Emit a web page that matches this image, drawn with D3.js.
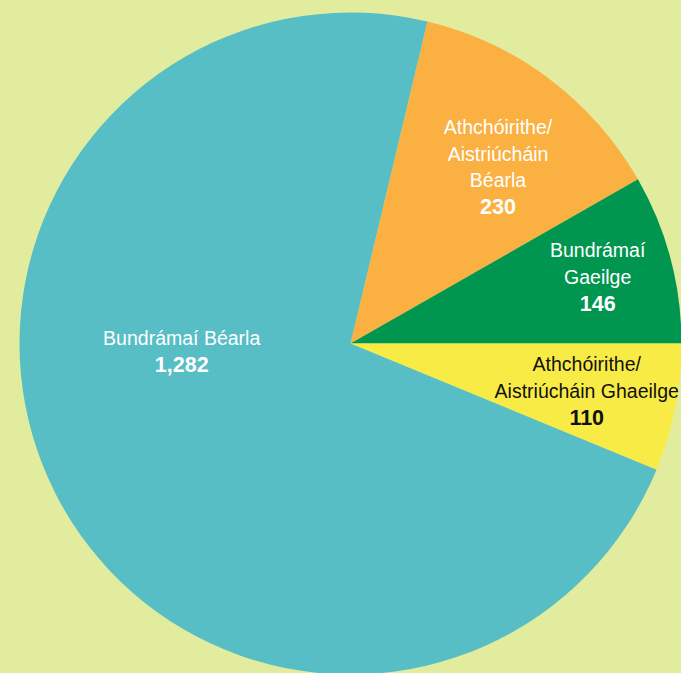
<!DOCTYPE html>
<meta charset="utf-8">
<style>
* { margin: 0; padding: 0; }
body { background: #e1ec9e; }
svg { display: block; }
.lbl { font-family: "Liberation Sans", Arial, sans-serif; font-size: 19.5px; text-anchor: middle; }
.num { font-weight: bold; font-size: 21.5px; }
</style>
<body>
<script src="https://cdn.jsdelivr.net/npm/d3@7"></script>
<script>

var categories = ["Athchóirithe/ Aistriúcháin Béarla", "Bundrámaí Gaeilge", "Athchóirithe/ Aistriúcháin Ghaeilge", "Bundrámaí Béarla"];
var values = [230, 146, 110, 1282];
var labelLines = [
	["Athchóirithe/", "Aistriúcháin", "Béarla"],
	["Bundrámaí", "Gaeilge"],
	["Athchóirithe/", "Aistriúcháin Ghaeilge"],
	["Bundrámaí Béarla"]
];
var valueLabels = ["230", "146", "110", "1,282"];

// look
var colors = ["#fbb042", "#00964f", "#f9eb45", "#57bec5"];
var textColors = ["#fff", "#fff", "#111", "#fff"];
// label anchor: [radius, angle in degrees from north]
var labelAnchor = [[230, 39.9], [256, 74.9], [241, 101.4], [169, 267.3]];

var width = 681,
    height = 673,
    cx = 350.5,
    cy = 343.5,
    radius = 331,
    lineH = 26.5;

var svg = d3.select("body").append("svg")
	.attr("width", width)
	.attr("height", height);

var pie = d3.pie()
	.sort(null)
	.startAngle(13.44 * Math.PI / 180)
	.endAngle((360 + 13.44) * Math.PI / 180);

var arc = d3.arc().innerRadius(0).outerRadius(radius);

var g = svg.append("g").attr("transform", "translate(" + cx + "," + cy + ")");

var arcs = pie(values);

g.selectAll("path.slice")
	.data(arcs)
	.enter().append("path")
	.attr("class", "slice")
	.attr("d", arc)
	.attr("fill", function(d, i) { return colors[i]; });

arcs.forEach(function(d, i) {
	var a = labelAnchor[i][1] * Math.PI / 180,
	    r = labelAnchor[i][0];
	var x = r * Math.sin(a),
	    y = -r * Math.cos(a);
	var lines = labelLines[i].concat([valueLabels[i]]);
	var top = y - (lines.length - 1) * lineH / 2;

	var t = g.append("text")
		.attr("class", "lbl")
		.attr("fill", textColors[i]);

	lines.forEach(function(line, k) {
		t.append("tspan")
			.attr("class", k == lines.length - 1 ? "num" : null)
			.attr("x", x)
			.attr("y", top + k * lineH)
			.attr("dy", "0.35em")
			.text(line);
	});
});

</script>
